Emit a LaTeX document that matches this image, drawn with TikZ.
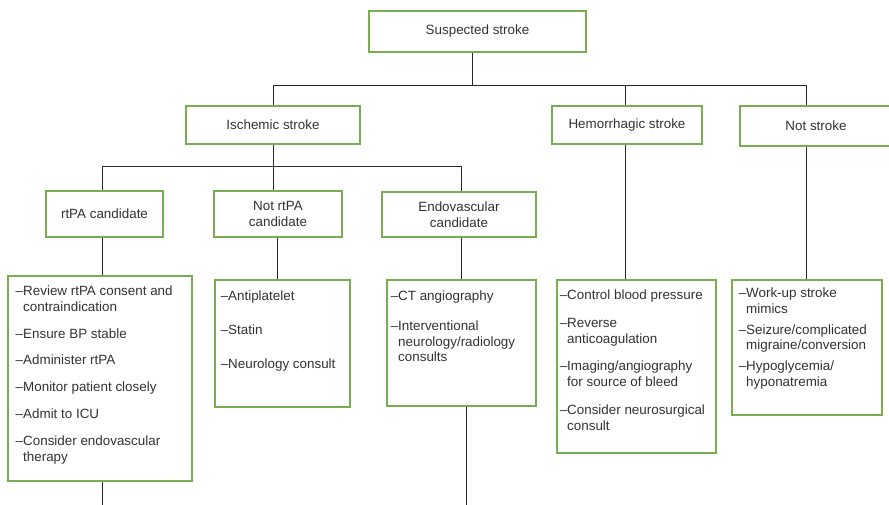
\documentclass[tikz,border=0pt]{standalone}
\usepackage{fontspec}
\setmainfont{Liberation Sans}
\usepackage{tikz}
\usetikzlibrary{shapes,arrows,positioning,calc}

\definecolor{boxgreen}{RGB}{122,172,82}
\definecolor{txtgray}{RGB}{50,50,50}
\definecolor{linegray}{RGB}{40,40,40}

\newcommand{\boxtext}[3]{\parbox[c][#2][t]{#1}{\raggedright #3}}

\begin{document}
\begin{tikzpicture}[x=1pt, y=-1pt, font=\fontsize{13.4}{15.8}\selectfont, text=txtgray]
\tikzstyle{block} = [rectangle, draw=boxgreen, line width=1.5pt, align=center, inner sep=0pt]
\tikzstyle{list} = [rectangle, draw=boxgreen, line width=1.5pt, anchor=north west]
\tikzstyle{line} = [draw=linegray, line width=0.9pt]

\useasboundingbox (0,0) rectangle (889,505);
\clip (0,0) rectangle (889,505);

% top levels
\node [block, minimum width=217pt, minimum height=41pt] (susp) at (477.5,31.5) {Suspected stroke};
\node [block, minimum width=174pt, minimum height=38pt] (isch) at (273,125) {Ischemic stroke};
\node [block, minimum width=150pt, minimum height=38pt] (hem) at (627,125) {Hemorrhagic stroke};
\node [block, minimum width=152pt, minimum height=40pt] (notst) at (816,126) {Not stroke};

\node [block, minimum width=117pt, minimum height=46pt] (rtpa) at (104.5,214) {rtPA candidate};
\node [block, minimum width=128pt, minimum height=46pt] (notrtpa) at (278,214) {Not rtPA\\candidate};
\node [block, minimum width=154pt, minimum height=45pt] (endo) at (459,214.5) {Endovascular\\candidate};

% lists
\node [list, inner xsep=8pt, inner ysep=10pt] (rtpalist) at (7,275) {\boxtext{168pt}{185pt}{%
--Review rtPA consent and\\\phantom{--}contraindication\\[11pt]
--Ensure BP stable\\[11pt]
--Administer rtPA\\[11pt]
--Monitor patient closely\\[11pt]
--Admit to ICU\\[11pt]
--Consider endovascular\\\phantom{--}therapy}};
\node [list, inner xsep=6pt, inner ysep=11pt] (notrtpalist) at (214,279) {\boxtext{123pt}{105pt}{%
--Antiplatelet\\[18pt]
--Statin\\[18pt]
--Neurology consult}};
\node [list, inner xsep=4pt, inner ysep=11pt] (endolist) at (386,279) {\boxtext{141pt}{104pt}{%
--CT angiography\\[14pt]
--Interventional\\\phantom{--}neurology/radiology\\\phantom{--}consults}};
\node [list, inner xsep=3pt, inner ysep=10pt] (hemlist) at (556,279) {\boxtext{153pt}{153pt}{%
--Control blood pressure\\[12pt]
--Reverse\\\phantom{--}anticoagulation\\[12pt]
--Imaging/angiography\\\phantom{--}for source of bleed\\[12pt]
--Consider neurosurgical\\\phantom{--}consult}};
\node [list, inner xsep=7pt, inner ysep=8pt] (notstlist) at (731,279) {\boxtext{136pt}{119pt}{%
--Work-up stroke\\\phantom{--}mimics\\[5pt]
--Seizure/complicated\\\phantom{--}migraine/conversion\\[5pt]
--Hypoglycemia/\\\phantom{--}hyponatremia}};

\coordinate (bus1) at (0,85);
\coordinate (bus2) at (0,166);
\coordinate (rtpaend) at (102,505);
\coordinate (endoend) at (466,505);

% connectors
\path [line] ([xshift=-5.5pt]susp.south) -- ([xshift=-5.5pt]susp.south |- bus1);
\path [line] (isch.north) |- ([xshift=-10pt]notst.north |- bus1) -- ([xshift=-10pt]notst.north);
\path [line] ([xshift=-2pt]hem.north) -- ([xshift=-2pt]hem.north |- bus1);

\path [line] (isch.south) -- (isch.south |- bus2);
\path [line] ([xshift=-2.5pt]rtpa.north) |- ([xshift=2pt]endo.north |- bus2) -- ([xshift=2pt]endo.north);
\path [line] ([xshift=-5pt]notrtpa.north) -- ([xshift=-5pt]notrtpa.north |- bus2);

\path [line] ([xshift=-2.5pt]rtpa.south) -- ([xshift=-2.5pt]rtpa.south |- rtpalist.north);
\path [line] ([xshift=-1pt]notrtpa.south) -- ([xshift=-1pt]notrtpa.south |- notrtpalist.north);
\path [line] ([xshift=2pt]endo.south) -- ([xshift=2pt]endo.south |- endolist.north);
\path [line] ([xshift=-2pt]hem.south) -- ([xshift=-2pt]hem.south |- hemlist.north);
\path [line] ([xshift=-10pt]notst.south) -- ([xshift=-10pt]notst.south |- notstlist.north);

\path [line] (rtpaend |- rtpalist.south) -- (rtpaend);
\path [line] (endoend |- endolist.south) -- (endoend);
\end{tikzpicture}
\end{document}
